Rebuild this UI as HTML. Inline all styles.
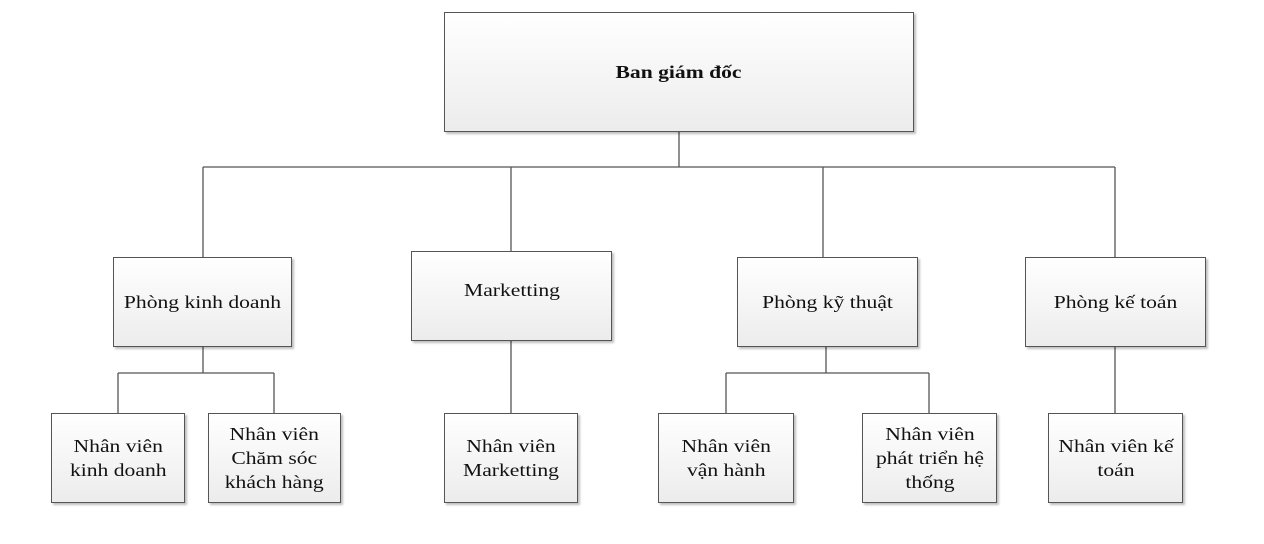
<!DOCTYPE html>
<html><head><meta charset="utf-8"><style>
body{margin:0;width:1264px;height:544px;background:#fff;position:relative;overflow:hidden;font-family:"Liberation Serif",serif;color:#111}
.b{position:absolute;box-sizing:border-box;border:1px solid #555;background:linear-gradient(#fff,#ececec);box-shadow:2px 2px 2px rgba(0,0,0,.25);display:flex;align-items:center;justify-content:center;text-align:center;font-size:18px;line-height:24px}
.b span{display:inline-block;transform:scaleX(1.2);white-space:nowrap}
svg{position:absolute;left:0;top:0}
</style></head><body>
<svg width="1264" height="544"><g stroke="#555" stroke-width="1.3" fill="none">
<path d="M679 132V167M203 167H1115M203 167V257M511 167V251M823 167V257M1115 167V257"/>
<path d="M203 347V373M118 373H274M118 373V413M274 373V413"/>
<path d="M511 341V413"/>
<path d="M826 347V373M726 373H929M726 373V413M929 373V413"/>
<path d="M1115 347V413"/>
</g></svg>
<div class="b" style="left:444px;top:12px;width:470px;height:120px;font-weight:bold"><span>Ban giám đốc</span></div>
<div class="b" style="left:113px;top:257px;width:179px;height:90px"><span>Phòng kinh doanh</span></div>
<div class="b" style="left:411px;top:251px;width:201px;height:90px;padding-bottom:12px"><span>Marketting</span></div>
<div class="b" style="left:737px;top:257px;width:181px;height:90px"><span>Phòng kỹ thuật</span></div>
<div class="b" style="left:1025px;top:257px;width:181px;height:90px"><span>Phòng kế toán</span></div>
<div class="b" style="left:51px;top:413px;width:134px;height:90px"><span>Nhân viên<br>kinh doanh</span></div>
<div class="b" style="left:208px;top:413px;width:133px;height:90px"><span>Nhân viên<br>Chăm sóc<br>khách hàng</span></div>
<div class="b" style="left:444px;top:413px;width:134px;height:90px"><span>Nhân viên<br>Marketting</span></div>
<div class="b" style="left:658px;top:413px;width:136px;height:90px"><span>Nhân viên<br>vận hành</span></div>
<div class="b" style="left:862px;top:413px;width:135px;height:90px"><span>Nhân viên<br>phát triển hệ<br>thống</span></div>
<div class="b" style="left:1048px;top:413px;width:135px;height:90px"><span>Nhân viên kế<br>toán</span></div>
</body></html>
